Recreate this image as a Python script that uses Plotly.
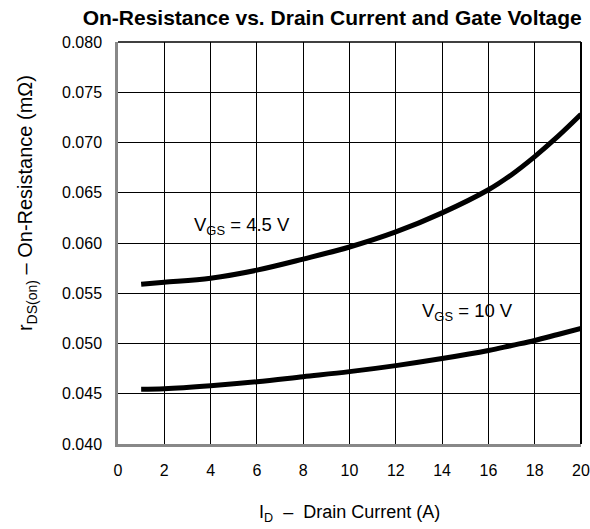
import plotly.graph_objects as go

current_a = [1, 2, 4, 6, 8, 10, 12, 14, 16, 17, 18, 19, 20]
rds_vgs_4_5 = [0.0559, 0.0561, 0.0565, 0.0573, 0.0584, 0.0596, 0.0611, 0.0630, 0.0653, 0.0668, 0.0686, 0.0706, 0.0728]
rds_vgs_10 = [0.04545, 0.0455, 0.0458, 0.0462, 0.0467, 0.0472, 0.0478, 0.0485, 0.0493, 0.0498, 0.0503, 0.0509, 0.0515]
x_ticks = list(range(0, 21, 2))
y_ticks = [0.040, 0.045, 0.050, 0.055, 0.060, 0.065, 0.070, 0.075, 0.080]

FONT = "Liberation Sans, Arial, Helvetica, sans-serif"

fig = go.Figure()
for ys in (rds_vgs_4_5, rds_vgs_10):
    fig.add_trace(go.Scatter(x=current_a, y=ys, mode="lines",
                             line=dict(color="black", width=5, shape="spline", smoothing=1.0),
                             showlegend=False, hoverinfo="skip"))

fig.add_annotation(x=5.35, y=0.0617, text="V<sub>GS</sub> = 4.5 V", showarrow=False,
                   font=dict(size=18.5, color="black", family=FONT))
fig.add_annotation(x=15.1, y=0.0531, text="V<sub>GS</sub> = 10 V", showarrow=False,
                   font=dict(size=18.5, color="black", family=FONT))

# y-axis title (placed as annotation to match the reference's vertical offset)
fig.add_annotation(xref="paper", yref="paper", x=-0.196, y=0.6, xanchor="center", yanchor="middle",
                   text="r<sub>DS(on)</sub> – On-Resistance (mΩ)", textangle=-90, showarrow=False,
                   font=dict(size=20, color="black", family=FONT))
# x-axis title
fig.add_annotation(xref="paper", yref="paper", x=0.5, y=-0.172, xanchor="center", yanchor="middle",
                   text="I<sub>D</sub>  –  Drain Current (A)", showarrow=False,
                   font=dict(size=18, color="black", family=FONT))

# top and right black border lines
fig.add_shape(type="line", xref="paper", yref="paper", x0=0, x1=1, y0=1, y1=1,
              line=dict(color="black", width=1.5))
fig.add_shape(type="line", xref="paper", yref="paper", x0=1, x1=1, y0=0, y1=1,
              line=dict(color="black", width=2))

fig.update_layout(
    width=590, height=529,
    margin=dict(l=118, r=9, t=42, b=85, autoexpand=False),
    paper_bgcolor="white", plot_bgcolor="white",
    font=dict(family=FONT, color="black", size=16),
    title=dict(text="<b>On-Resistance vs. Drain Current and Gate Voltage</b>",
               x=0.563, xanchor="center", xref="container", y=0.966, yanchor="middle",
               font=dict(size=21, family=FONT, color="black")),
    xaxis=dict(range=[0, 20], tickvals=x_ticks, ticktext=[str(v) for v in x_ticks],
               showgrid=True, gridcolor="black", gridwidth=1,
               showline=True, linecolor="#888888", linewidth=2.5,
               ticks="", ticklen=0, zeroline=False, automargin=False,
               ticklabelstandoff=10, tickfont=dict(size=16)),
    yaxis=dict(range=[0.040, 0.080], tickvals=y_ticks, ticktext=[f"{v:.3f}" for v in y_ticks],
               showgrid=True, gridcolor="black", gridwidth=1,
               showline=True, linecolor="#888888", linewidth=2.5,
               ticks="", ticklen=0, zeroline=False, automargin=False,
               ticklabelstandoff=10, tickfont=dict(size=16)),
)

fig.write_html("out.html", config={"displayModeBar": False},
               post_script="document.body.style.margin='0';document.body.style.padding='0';")
